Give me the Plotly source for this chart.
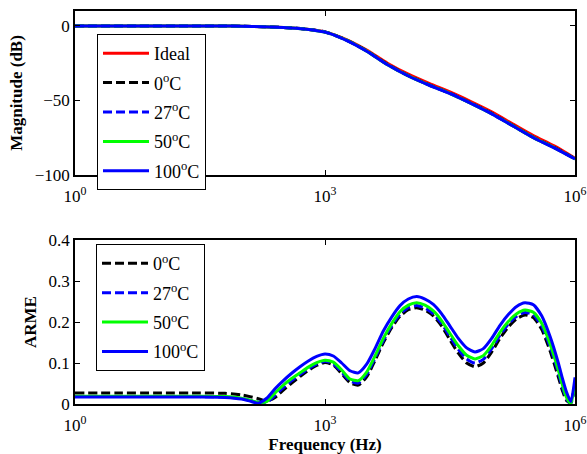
import plotly.graph_objects as go

# ---- Magnitude response (dB), sampled every quarter decade from 1 Hz to 1 MHz
mag_log_f = [0, 0.25, 0.5, 0.75, 1.0, 1.25, 1.5, 1.75, 2.0, 2.25, 2.5, 2.75, 3.0,
             3.25, 3.5, 3.75, 4.0, 4.25, 4.5, 4.75, 5.0, 5.25, 5.5, 5.75, 6.0]
mag_ideal = [0, 0, 0, 0, 0, 0, 0, -0.05, -0.2, -0.5, -1.0, -2.0, -4.0,
             -9.0, -16.2, -25.0, -32.4, -38.6, -44.3, -50.7, -57.6, -65.6, -73.5, -80.5, -88.8]
mag_0c = [0, 0, 0, 0, 0, 0, 0, -0.05, -0.2, -0.5, -1.0, -2.0, -4.1,
          -9.3, -16.7, -25.8, -33.3, -39.5, -45.2, -51.7, -58.7, -66.7, -74.7, -81.5, -89.1]
mag_27c = [0, 0, 0, 0, 0, 0, 0, -0.05, -0.2, -0.5, -1.0, -2.0, -4.1,
           -9.4, -16.8, -25.9, -33.4, -39.6, -45.3, -51.8, -58.8, -66.8, -74.8, -81.6, -89.2]
mag_50c = [0, 0, 0, 0, 0, 0, 0, -0.05, -0.2, -0.5, -1.0, -2.0, -4.2,
           -9.4, -16.9, -26.0, -33.5, -39.7, -45.4, -51.9, -58.9, -66.9, -74.9, -81.7, -89.2]
mag_100c = [0, 0, 0, 0, 0, 0, 0, -0.05, -0.2, -0.5, -1.0, -2.0, -4.2,
            -9.5, -17.0, -26.1, -33.6, -39.8, -45.5, -52.0, -59.0, -67.0, -75.0, -81.8, -89.3]

# ---- ARME versus frequency
arme_log_f = [0, 0.5, 1.0, 1.5, 1.8, 2.0, 2.1, 2.2, 2.3, 2.4, 2.5, 2.6, 2.7, 2.8, 2.9,
              3.0, 3.1, 3.2, 3.3, 3.4, 3.5, 3.6, 3.7, 3.8, 3.9, 4.0, 4.1, 4.2, 4.3,
              4.4, 4.5, 4.6, 4.7, 4.8, 4.9, 5.0, 5.1, 5.2, 5.3, 5.4, 5.5, 5.6, 5.7,
              5.8, 5.85, 5.9, 5.95, 6.0]
arme_0c = [0.027, 0.027, 0.027, 0.027, 0.026, 0.022, 0.018, 0.013, 0.007, 0.016, 0.034,
           0.051, 0.067, 0.082, 0.094, 0.101, 0.095, 0.074, 0.052, 0.046, 0.066, 0.106,
           0.150, 0.186, 0.214, 0.230, 0.235, 0.229, 0.215, 0.190, 0.156, 0.124, 0.100,
           0.091, 0.100, 0.127, 0.160, 0.188, 0.208, 0.217, 0.211, 0.182, 0.130, 0.066,
           0.032, 0.008, 0.003, 0.048]
arme_27c = [0.018, 0.018, 0.018, 0.018, 0.017, 0.013, 0.009, 0.005, 0.004, 0.021, 0.040,
            0.057, 0.072, 0.086, 0.097, 0.104, 0.098, 0.078, 0.056, 0.051, 0.072, 0.112,
            0.155, 0.191, 0.219, 0.235, 0.240, 0.234, 0.220, 0.196, 0.164, 0.133, 0.110,
            0.100, 0.109, 0.135, 0.168, 0.195, 0.214, 0.223, 0.218, 0.190, 0.140, 0.076,
            0.040, 0.012, 0.002, 0.050]
arme_50c = [0.019, 0.019, 0.019, 0.019, 0.018, 0.014, 0.009, 0.004, 0.006, 0.027, 0.046,
            0.062, 0.076, 0.090, 0.101, 0.107, 0.102, 0.083, 0.061, 0.057, 0.078, 0.117,
            0.160, 0.196, 0.225, 0.241, 0.247, 0.241, 0.227, 0.203, 0.172, 0.142, 0.119,
            0.110, 0.118, 0.143, 0.175, 0.201, 0.220, 0.229, 0.224, 0.197, 0.147, 0.083,
            0.046, 0.015, 0.001, 0.052]
arme_100c = [0.017, 0.017, 0.017, 0.017, 0.016, 0.012, 0.007, 0.002, 0.014, 0.037, 0.057,
             0.075, 0.091, 0.105, 0.116, 0.122, 0.117, 0.100, 0.081, 0.076, 0.097, 0.135,
             0.178, 0.212, 0.240, 0.256, 0.262, 0.256, 0.243, 0.220, 0.190, 0.160, 0.137,
             0.127, 0.135, 0.160, 0.192, 0.218, 0.238, 0.247, 0.242, 0.215, 0.165, 0.100,
             0.062, 0.028, 0.006, 0.065]

freq_ticks = [1, 1e3, 1e6]
freq_tick_text = ["10<sup>0</sup>", "10<sup>3</sup>", "10<sup>6</sup>"]
mag_ticks = [-100, -50, 0]
arme_ticks = [0, 0.1, 0.2, 0.3, 0.4]
arme_tick_text = ["0", "0.1", "0.2", "0.3", "0.4"]

mag_freq = [10 ** v for v in mag_log_f]
arme_freq = [10 ** v for v in arme_log_f]

FONT = "Liberation Serif"
DASH = "9px,4px"
LW = 3

fig = go.Figure()

top_series = [
    ("Ideal", mag_ideal, "#ff0000", "solid"),
    ("0<sup>o</sup>C", mag_0c, "#000000", DASH),
    ("27<sup>o</sup>C", mag_27c, "#0000ff", DASH),
    ("50<sup>o</sup>C", mag_50c, "#00ff00", "solid"),
    ("100<sup>o</sup>C", mag_100c, "#0000ff", "solid"),
]
for i, (name, ys, color, dash) in enumerate(top_series):
    fig.add_trace(go.Scatter(
        x=mag_freq, y=ys, name=name, mode="lines",
        line=dict(color=color, width=LW, dash=dash, shape="spline", smoothing=0.8),
        xaxis="x", yaxis="y", legend="legend", legendgroup=f"top{i}",
    ))

bottom_series = [
    ("0<sup>o</sup>C", arme_0c, "#000000", DASH),
    ("27<sup>o</sup>C", arme_27c, "#0000ff", DASH),
    ("50<sup>o</sup>C", arme_50c, "#00ff00", "solid"),
    ("100<sup>o</sup>C", arme_100c, "#0000ff", "solid"),
]
for i, (name, ys, color, dash) in enumerate(bottom_series):
    fig.add_trace(go.Scatter(
        x=arme_freq, y=ys, name=name, mode="lines",
        line=dict(color=color, width=LW, dash=dash, shape="spline", smoothing=0.6),
        xaxis="x2", yaxis="y2", legend="legend2", legendgroup=f"bot{i}",
    ))

axis_common = dict(
    showline=True, linecolor="black", linewidth=1.5, mirror="ticks",
    ticks="inside", ticklen=5, tickwidth=1, tickcolor="black",
    showgrid=False, zeroline=False, automargin=False,
    tickfont=dict(family=FONT, size=17, color="black"),
)
title_font = dict(family=FONT, size=17, color="black")
legend_common = dict(
    xanchor="left", yanchor="top",
    bgcolor="white", bordercolor="black", borderwidth=1,
    font=dict(family=FONT, size=18, color="black"), traceorder="grouped",
    tracegroupgap=3, itemwidth=46,
)

# plot area spans y 11..404 px; top axes 11..175, bottom axes 240..404
fig.update_layout(
    width=587, height=454,
    margin=dict(l=75, r=12, t=11, b=50, autoexpand=False),
    paper_bgcolor="white", plot_bgcolor="white",
    font=dict(family=FONT, size=17, color="black"),
    xaxis=dict(type="log", range=[0, 6], domain=[0, 1], anchor="y",
               tickvals=freq_ticks, ticktext=freq_tick_text,
               ticklabelstandoff=5, **axis_common),
    yaxis=dict(range=[-100, 10], domain=[0.5827, 1.0], anchor="x",
               tickvals=mag_ticks,
               title=dict(text="<b>Magnitude (dB)</b>", font=title_font, standoff=8),
               **axis_common),
    xaxis2=dict(type="log", range=[0, 6], domain=[0, 1], anchor="y2",
                tickvals=freq_ticks, ticktext=freq_tick_text, ticklabelstandoff=5,
                title=dict(text="<b>Frequency (Hz)</b>", font=title_font, standoff=2),
                **axis_common),
    yaxis2=dict(range=[0, 0.4], domain=[0, 0.4173], anchor="x2",
                tickvals=arme_ticks, ticktext=arme_tick_text,
                title=dict(text="<b>ARME</b>", font=title_font, standoff=8),
                **axis_common),
    legend=dict(x=0.044, y=0.9415, **legend_common),
    legend2=dict(x=0.042, y=0.407, **legend_common),
)

fig.write_html("out.html")
